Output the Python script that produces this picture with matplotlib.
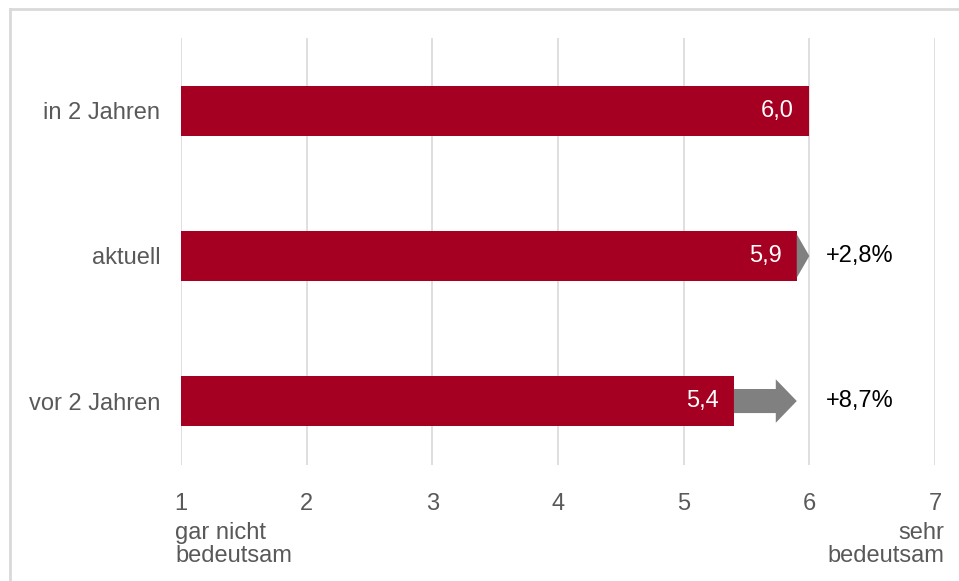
import matplotlib.pyplot as plt
from matplotlib.patches import FancyArrow
from matplotlib.lines import Line2D

plt.rcParams['font.family'] = ['Liberation Sans', 'DejaVu Sans']

categories = ['vor 2 Jahren', 'aktuell', 'in 2 Jahren']
values = [5.4, 5.9, 6.0]
value_labels = ['5,4', '5,9', '6,0']
change_labels = ['+8,7%', '+2,8%', None]
xticks = [1, 2, 3, 4, 5, 6, 7]

bar_color = '#A50021'
arrow_color = '#808080'
text_gray = '#595959'
grid_color = '#D9D9D9'
fs = 17

fig = plt.figure(figsize=(9.59, 5.81), dpi=100)
W, H = 959, 581
ax = fig.add_axes([181 / W, 1 - 465 / H, (935 - 181) / W, (465 - 38) / H])

ypos = list(range(len(categories)))
ax.barh(ypos, [v - 1 for v in values], left=1, height=0.35,
        color=bar_color, zorder=3)

for y, v, lab in zip(ypos, values, value_labels):
    ax.annotate(lab, (v, y), xytext=(-11, 0), textcoords='offset points',
                ha='right', va='center', color='white', fontsize=fs,
                zorder=5)

# gray arrows: from each bar's end to the value of the next period
for i, lab in enumerate(change_labels):
    if lab is None:
        continue
    x0, x1 = values[i], values[i + 1]
    dx = x1 - x0
    arr = FancyArrow(x0, ypos[i], dx, 0, width=0.166, head_width=0.30,
                     head_length=min(0.167, dx), length_includes_head=True,
                     color=arrow_color, lw=0, zorder=4)
    ax.add_patch(arr)
    ax.text(6.4, ypos[i], lab, ha='center', va='center', fontsize=fs,
            color='black')

ax.set_xlim(1, 7)
ax.set_ylim(-0.441, 2.503)
ax.set_xticks(xticks)
ax.set_xticklabels([str(t) for t in xticks])
ax.set_yticks(ypos)
ax.set_yticklabels(categories)
ax.tick_params(axis='both', length=0, labelsize=fs, colors=text_gray)
ax.tick_params(axis='x', pad=20)
ax.tick_params(axis='y', pad=15)
ax.grid(axis='x', color=grid_color, lw=1.2, zorder=0)
for s in ax.spines.values():
    s.set_visible(False)

fig.text(175 / W, 1 - 522 / H, 'gar nicht\nbedeutsam', ha='left', va='top',
         fontsize=fs, color=text_gray, linespacing=1.05)
fig.text(944 / W, 1 - 522 / H, 'sehr\nbedeutsam', ha='right', va='top',
         fontsize=fs, color=text_gray, linespacing=1.05)

# chart frame (top and left edges)
fig.add_artist(Line2D([10 / W, 10 / W], [0, 1 - 9 / H], color=grid_color,
                      lw=2, transform=fig.transFigure))
fig.add_artist(Line2D([10 / W, 1], [1 - 9 / H, 1 - 9 / H], color=grid_color,
                      lw=2, transform=fig.transFigure))

fig.savefig('out.png', dpi=100)
